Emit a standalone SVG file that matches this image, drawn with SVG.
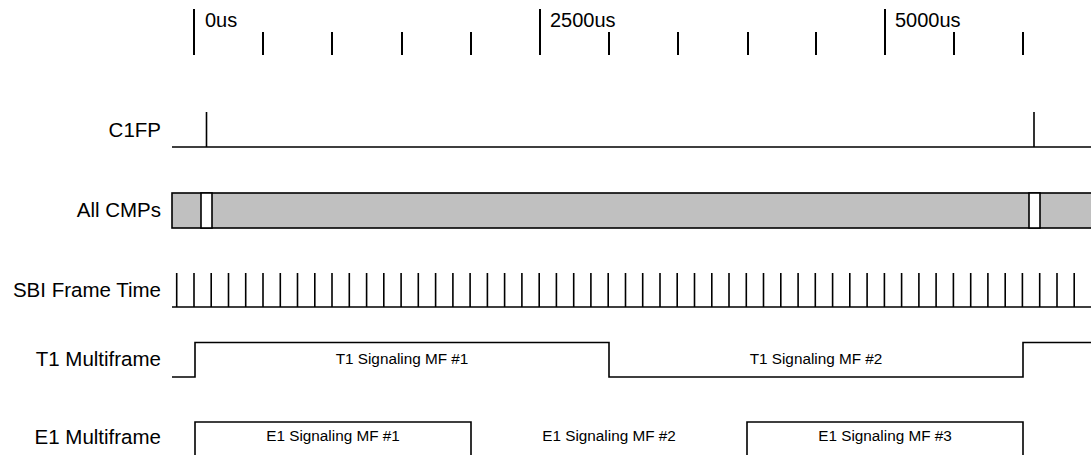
<svg xmlns="http://www.w3.org/2000/svg" width="1091" height="455" viewBox="0 0 1091 455">
<style>
text{font-family:"Liberation Sans",Arial,sans-serif;fill:#000}
.lbl{font-size:20.5px;text-anchor:end}
.rul{font-size:20px}
.in{font-size:15.3px;text-anchor:middle}
.tk{stroke:#000;stroke-width:2;fill:none}
.sig{stroke:#000;stroke-width:1.6;fill:none}
</style>
<rect width="1091" height="455" fill="#fff"/>
<g id="ruler">
<path class="tk" d="M194 9V55M540 9V55M885 9V55M263 32V55M332 32V55M402 32V55M471 32V55M609 32V55M678 32V55M748 32V55M816 32V55M954 32V55M1023 32V55"/>
<text class="rul" x="205" y="27">0us</text>
<text class="rul" x="550" y="27">2500us</text>
<text class="rul" x="895" y="27">5000us</text>
</g>
<g id="c1fp">
<text class="lbl" x="161" y="137">C1FP</text>
<path class="sig" d="M172 147H1091M206.5 112V147M1034 112V147"/>
</g>
<g id="allcmps">
<text class="lbl" x="161" y="217">All CMPs</text>
<rect x="172" y="193" width="925" height="35" fill="#c0c0c0" stroke="#000" stroke-width="1.6"/>
<rect x="201" y="193" width="11" height="35" fill="#fff" stroke="#000" stroke-width="1.6"/>
<rect x="1029" y="193" width="11" height="35" fill="#fff" stroke="#000" stroke-width="1.6"/>
</g>
<g id="sbi">
<text class="lbl" x="161" y="297">SBI Frame Time</text>
<path class="sig" d="M172 307H1091M176.7 273V307M194 273V307M211.2 273V307M228.5 273V307M245.7 273V307M263 273V307M280.3 273V307M297.5 273V307M314.8 273V307M332 273V307M349.3 273V307M366.6 273V307M383.8 273V307M401.1 273V307M418.3 273V307M435.6 273V307M452.9 273V307M470.1 273V307M487.4 273V307M504.6 273V307M521.9 273V307M539.2 273V307M556.4 273V307M573.7 273V307M590.9 273V307M608.2 273V307M625.5 273V307M642.7 273V307M660 273V307M677.2 273V307M694.5 273V307M711.8 273V307M729 273V307M746.3 273V307M763.5 273V307M780.8 273V307M798.1 273V307M815.3 273V307M832.6 273V307M849.8 273V307M867.1 273V307M884.4 273V307M901.6 273V307M918.9 273V307M936.1 273V307M953.4 273V307M970.7 273V307M987.9 273V307M1005.2 273V307M1022.4 273V307M1039.7 273V307M1057 273V307M1074.2 273V307"/>
</g>
<g id="t1">
<text class="lbl" x="161" y="366">T1 Multiframe</text>
<path class="sig" d="M172 377H195V342.5H609V377H1023V342.5H1091"/>
<text class="in" x="402" y="364">T1 Signaling MF #1</text>
<text class="in" x="816" y="364">T1 Signaling MF #2</text>
</g>
<g id="e1">
<text class="lbl" x="161" y="444">E1 Multiframe</text>
<path class="sig" d="M195 460V422H471V460M747 460V422H1023V460"/>
<text class="in" x="333" y="441">E1 Signaling MF #1</text>
<text class="in" x="609" y="441">E1 Signaling MF #2</text>
<text class="in" x="885" y="441">E1 Signaling MF #3</text>
</g>
</svg>
